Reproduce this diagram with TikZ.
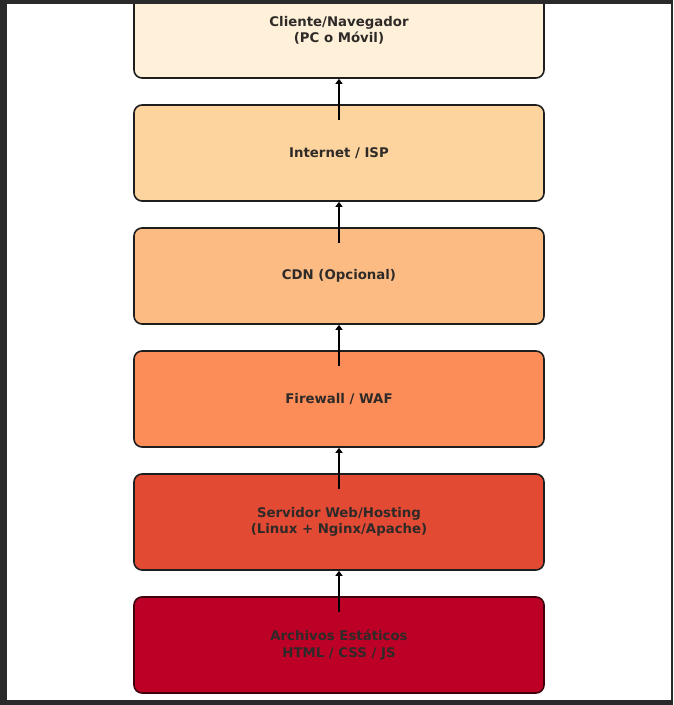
\documentclass[tikz,border=0pt]{standalone}
\usepackage{fontspec}
\setmainfont{DejaVu Sans}
\usetikzlibrary{arrows.meta}
\definecolor{c1}{HTML}{FEF0D9}
\definecolor{c2}{HTML}{FDD49E}
\definecolor{c3}{HTML}{FDBB84}
\definecolor{c4}{HTML}{FC8D59}
\definecolor{c5}{HTML}{E34A33}
\definecolor{c6}{HTML}{BD0026}
\definecolor{txt}{HTML}{2E2A28}
\definecolor{edge}{HTML}{1E1E1E}
\definecolor{frame}{HTML}{2A2A2A}
\tikzset{
  layerbox/.style={draw=edge, line width=1.6pt, rounded corners=8pt,
    minimum width=410pt, minimum height=96pt, inner sep=0pt,
    text=txt, align=center,
    font=\fontsize{13.3}{16.2}\selectfont\bfseries},
  arr/.style={draw=black, line width=1.5pt, -{Triangle[length=5pt,width=7pt]}}
}
\begin{document}
\begin{tikzpicture}[x=1pt,y=-1pt]
\useasboundingbox (0,0) rectangle (673,705);
\fill[frame] (0,0) rectangle (673,705);
\fill[white] (7,4) rectangle (671,700);
\begin{scope}
\clip (7,4) rectangle (671,700);
\node[layerbox, fill=c1] (n1) at (339,30) {Cliente/Navegador\\(PC o Móvil)};
\end{scope}
\node[layerbox, fill=c2] (n2) at (339,153) {Internet / ISP};
\node[layerbox, fill=c3] (n3) at (339,276) {CDN (Opcional)};
\node[layerbox, fill=c4] (n4) at (339,399) {Firewall / WAF};
\node[layerbox, fill=c5] (n5) at (339,522) {Servidor Web/Hosting\\(Linux + Nginx/Apache)};
\node[layerbox, fill=c6, draw=c6!35!black] (n6) at (339,645) {Archivos Estáticos\\HTML / CSS / JS};
\draw[arr] ([yshift=-16pt]n2.north) -- (n1.south);
\draw[arr] ([yshift=-16pt]n3.north) -- (n2.south);
\draw[arr] ([yshift=-16pt]n4.north) -- (n3.south);
\draw[arr] ([yshift=-16pt]n5.north) -- (n4.south);
\draw[arr] ([yshift=-16pt]n6.north) -- (n5.south);
\end{tikzpicture}
\end{document}
